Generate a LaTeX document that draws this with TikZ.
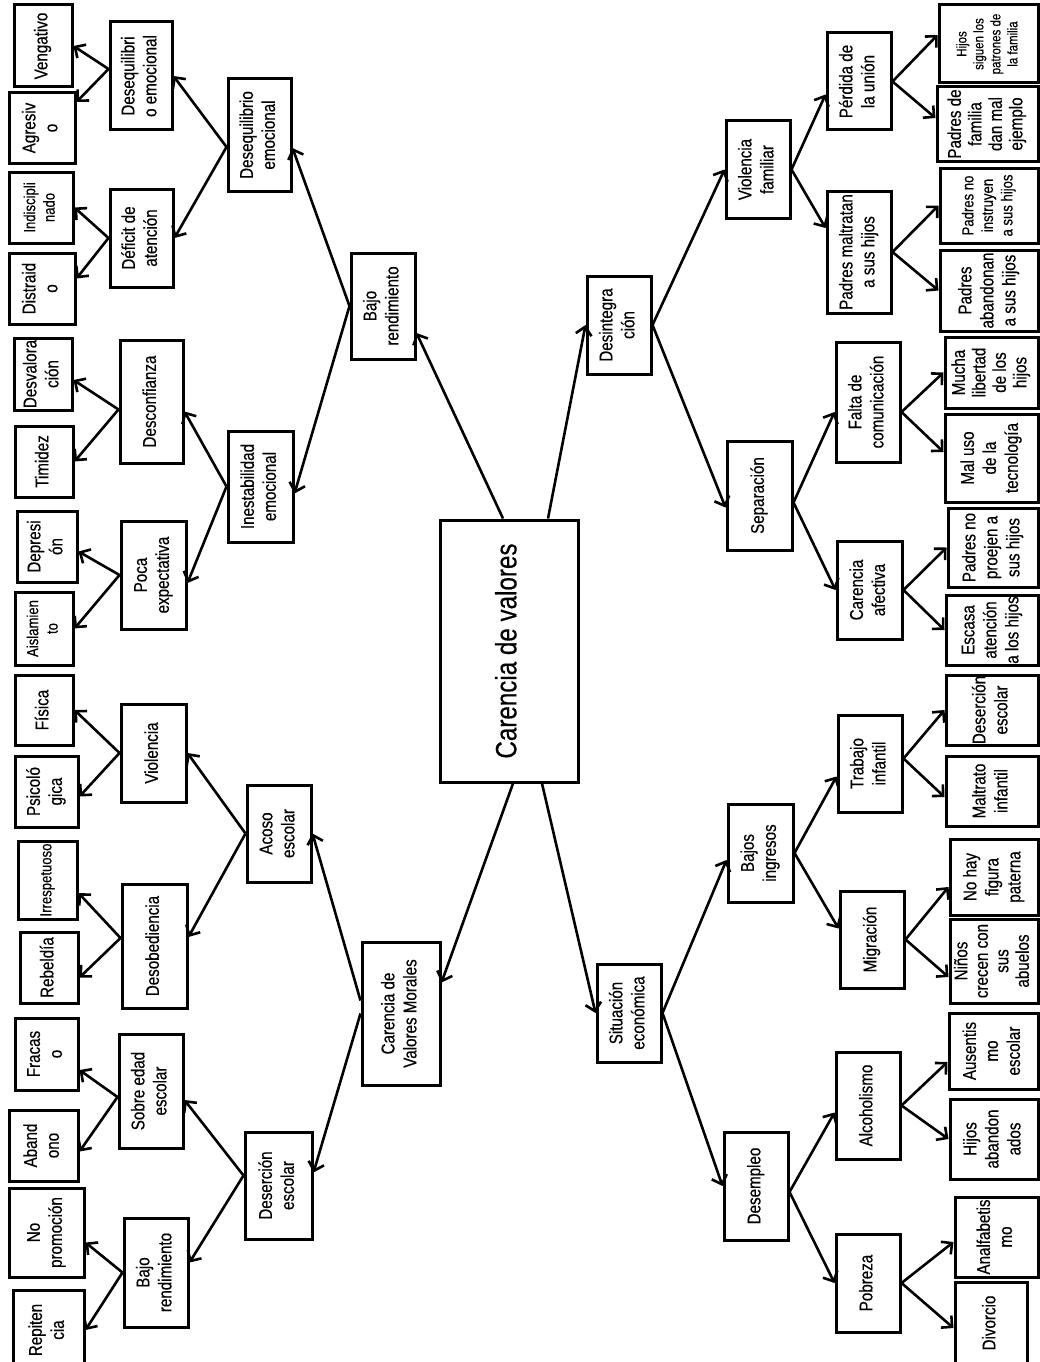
\documentclass[tikz,border=0pt]{standalone}
\usepackage{fontspec}
\setmainfont[FakeStretch=0.82,FakeBold=0.4]{Liberation Sans}
\usepackage{graphicx}
\usetikzlibrary{arrows.meta}

\newcommand{\vt}[1]{\rotatebox{90}{\begin{tabular}{@{}c@{}}#1\end{tabular}}}

\begin{document}
\begin{tikzpicture}[x=1pt,y=-1pt,
  >={Straight Barb[length=8pt,width=16pt]},
  box/.style 2 args={draw,line width=3pt,inner sep=0pt,minimum width=#1,minimum height=#2,
    font=\fontsize{18.5}{22}\selectfont},
  small/.style={font=\fontsize{16}{19.5}\selectfont},
  tight/.style={font=\fontsize{18.5}{20.5}\selectfont},
  tiny/.style={font=\fontsize{14}{17}\selectfont},
  arr/.style={->,line width=2.6pt}]
\fill[white] (0,0) rectangle (1040,1362);
\useasboundingbox (0,0) rectangle (1040,1362);

% centre
\node[box={138}{262}] (CV) at (509,651) {\vt{\fontsize{29.5}{34}\selectfont Carencia de valores}};

% left tree
\node[box={64}{106}] (BR1) at (383,306) {\vt{Bajo\\rendimiento}};
\node[box={78}{143}] (CVM) at (401,1013.5) {\vt{Carencia de\\Valores Morales}};

\node[box={63}{112}] (DE2) at (259.5,135) {\vt{Desequilibrio\\emocional}};
\node[box={65}{111}] (IE) at (260.5,486.5) {\vt{Inestabilidad\\emocional}};
\node[box={64}{97}] (AE) at (279,833.5) {\vt{Acoso\\escolar}};
\node[box={67}{107}] (DS) at (278.5,1185.5) {\vt{Deserción\\escolar}};

\node[box={62}{108}] (DE3) at (141,76) {\vt{Desequilibri\\o emocional}};
\node[box={63}{98}] (DA) at (141.5,238) {\vt{Déficit de\\atención}};
\node[box={63}{123}] (DF) at (151.5,401.5) {\vt{Desconfianza}};
\node[box={65}{108}] (PE) at (153.5,575) {\vt{Poca\\expectativa}};
\node[box={65}{98}] (VI) at (153.5,753) {\vt{Violencia}};
\node[box={65}{124}] (DB) at (154.5,946) {\vt{Desobediencia}};
\node[box={64}{114}] (SE) at (151,1091) {\vt{Sobre edad\\escolar}};
\node[box={64}{109}] (BR3) at (156,1272.5) {\vt{Bajo\\rendimiento}};

\node[box={58}{82}] (VEN) at (43,46) {\vt{Vengativo}};
\node[box={66}{70}] (AGR) at (42,128) {\vt{Agresiv\\o}};
\node[box={64}{71},small] (IND) at (41,207.5) {\vt{Indiscipli\\nado}};
\node[box={66}{71}] (DIS) at (42,288.5) {\vt{Distraid\\o}};
\node[box={58}{72}] (DVL) at (43,374) {\vt{Desvalora\\ción}};
\node[box={58}{71}] (TIM) at (44,461.5) {\vt{Timidez}};
\node[box={60}{71}] (DEP) at (47,546.5) {\vt{Depresi\\ón}};
\node[box={58}{73},small] (AIS) at (44,628.5) {\vt{Aislamien\\to}};
\node[box={58}{70}] (FIS) at (44,710) {\vt{Física}};
\node[box={63}{71}] (PSI) at (46.5,791.5) {\vt{Psicoló\\gica}};
\node[box={59}{78},small] (IRR) at (47.5,880) {\vt{Irrespetuoso}};
\node[box={58}{71}] (REB) at (49,967.5) {\vt{Rebeldía}};
\node[box={63}{72}] (FRA) at (46.5,1054) {\vt{Fracas\\o}};
\node[box={69}{71}] (ABA) at (43.5,1145.5) {\vt{Aband\\ono}};
\node[box={75}{89}] (NPR) at (46.5,1232.5) {\vt{No\\promoción}};
\node[box={71}{80}] (REP) at (48.5,1330) {\vt{Repiten\\cia}};

% right tree
\node[box={64}{98}] (DI) at (619,325) {\vt{Desintegra\\ción}};
\node[box={64}{98}] (SEC) at (629,1013) {\vt{Situación\\económica}};

\node[box={64}{97}] (VF) at (758,169.5) {\vt{Violencia\\familiar}};
\node[box={65}{109}] (SP) at (759.5,495.5) {\vt{Separación}};
\node[box={65}{98}] (BI) at (760.5,853) {\vt{Bajos\\ingresos}};
\node[box={64}{108}] (DM) at (756,1186) {\vt{Desempleo}};

\node[box={64}{97}] (PU) at (859,81.5) {\vt{Pérdida de\\la unión}};
\node[box={64}{122}] (PM) at (859,252) {\vt{Padres maltratan\\a sus hijos}};
\node[box={64}{120}] (FC) at (868,402) {\vt{Falta de\\comunicación}};
\node[box={65}{98}] (CA) at (869.5,590) {\vt{Carencia\\afectiva}};
\node[box={64}{97}] (TI) at (870,763.5) {\vt{Trabajo\\infantil}};
\node[box={64}{97}] (MG) at (872,939.5) {\vt{Migración}};
\node[box={64}{107}] (AL) at (868,1105.5) {\vt{Alcoholismo}};
\node[box={64}{98}] (PO) at (868,1283) {\vt{Pobreza}};

\node[box={99}{78},tiny] (HSP) at (988.5,44) {\vt{Hijos\\siguen los\\patrones de\\la familia}};
\node[box={101}{74},tight] (PDM) at (987.5,124) {\vt{Padres de\\familia\\dan mal\\ejemplo}};
\node[box={98}{75},small] (PNI) at (989,205.5) {\vt{Padres no\\instruyen\\a sus hijos}};
\node[box={98}{81}] (PAH) at (989,290.5) {\vt{Padres\\abandonan\\a sus hijos}};
\node[box={93}{71},tight] (MLH) at (991.5,372.5) {\vt{Mucha\\libertad\\de los\\hijos}};
\node[box={93}{88}] (MUT) at (991.5,458) {\vt{Mal uso\\de la\\tecnología}};
\node[box={90}{79}] (PNP) at (993,547.5) {\vt{Padres no\\proejen a\\sus hijos}};
\node[box={92}{70}] (EAH) at (992,630) {\vt{Escasa\\atención\\a los hijos}};
\node[box={92}{70}] (DSE) at (992,710) {\vt{Deserción\\escolar}};
\node[box={92}{70}] (MTI) at (992,791) {\vt{Maltrato\\infantil}};
\node[box={88}{76}] (NHF) at (994,877) {\vt{No hay\\figura\\paterna}};
\node[box={88}{84},tight] (NCA) at (994,961) {\vt{Niños\\crecen con\\sus\\abuelos}};
\node[box={89}{76}] (AUS) at (993.5,1051) {\vt{Ausentis\\mo\\escolar}};
\node[box={88}{80}] (HAB) at (994,1139) {\vt{Hijos\\abandon\\ados}};
\node[box={83}{80}] (ANA) at (996.5,1237) {\vt{Analfabetis\\mo}};
\node[box={72}{82}] (DIV) at (991,1323) {\vt{Divorcio}};

% centre to first level
\draw[arr] ([xshift=-6pt]CV.north) -- ([yshift=-27pt]BR1.east);
\draw[arr] ([xshift=39pt]CV.north) -- (DI.west);
\draw[arr] ([xshift=4pt]CV.south) -- ([yshift=31pt]CVM.east);
\draw[arr] ([xshift=33pt]CV.south) -- (SEC.west);

% left tree connectors
\draw[arr] (BR1.west) -- ([yshift=-13pt]DE2.east);
\draw[arr] (BR1.west) -- ([yshift=-7pt]IE.east);
\draw[arr] ([yshift=13pt]CVM.west) -- (AE.east);
\draw[arr] (CVM.west) -- ([yshift=13pt]DS.east);

\draw[arr] ([yshift=-12pt]DE2.west) -- (DE3.east);
\draw[arr] ([yshift=-12pt]DE2.west) -- (DA.east);
\draw[arr] (IE.west) -- ([yshift=-10pt]DF.east);
\draw[arr] (IE.west) -- ([yshift=-8pt]PE.east);
\draw[arr] (AE.west) -- (VI.east);
\draw[arr] (AE.west) -- ([yshift=9pt]DB.east);
\draw[arr] ([yshift=10pt]DS.west) -- ([yshift=-9pt]SE.east);
\draw[arr] ([yshift=10pt]DS.west) -- ([yshift=10pt]BR3.east);

\draw[arr] ([yshift=7pt]DE3.west) -- (VEN.east);
\draw[arr] ([yshift=7pt]DE3.west) -- ([yshift=26pt]AGR.east);
\draw[arr] (DA.west) -- (IND.east);
\draw[arr] (DA.west) -- ([yshift=10pt]DIS.east);
\draw[arr] ([yshift=-8pt]DF.west) -- ([yshift=-6pt]DVL.east);
\draw[arr] ([yshift=-8pt]DF.west) -- (TIM.east);
\draw[arr] (PE.west) -- ([yshift=-5pt]DEP.east);
\draw[arr] (PE.west) -- (AIS.east);
\draw[arr] (VI.west) -- (FIS.east);
\draw[arr] (VI.west) -- ([yshift=-5pt]PSI.east);
\draw[arr] ([yshift=8pt]DB.west) -- ([yshift=-13pt]IRR.east);
\draw[arr] ([yshift=8pt]DB.west) -- ([yshift=-10pt]REB.east);
\draw[arr] ([yshift=-6pt]SE.west) -- ([yshift=-16pt]FRA.east);
\draw[arr] ([yshift=-6pt]SE.west) -- ([yshift=-6pt]ABA.east);
\draw[arr] (BR3.west) -- ([yshift=-10pt]NPR.east);
\draw[arr] (BR3.west) -- (REP.east);

% right tree connectors
\draw[arr] (DI.east) -- (VF.west);
\draw[arr] (DI.east) -- ([yshift=-12pt]SP.west);
\draw[arr] (SEC.east) -- ([yshift=-7pt]BI.west);
\draw[arr] (SEC.east) -- (DM.west);

\draw[arr] (VF.east) -- ([yshift=-13pt]PU.west);
\draw[arr] (VF.east) -- ([yshift=24pt]PM.west);
\draw[arr] ([yshift=-7pt]SP.east) -- ([yshift=-10pt]FC.west);
\draw[arr] ([yshift=-7pt]SP.east) -- (CA.west);
\draw[arr] (BI.east) -- ([yshift=-13pt]TI.west);
\draw[arr] (BI.east) -- ([yshift=11pt]MG.west);
\draw[arr] ([yshift=-6pt]DM.east) -- ([yshift=-7pt]AL.west);
\draw[arr] ([yshift=-6pt]DM.east) -- (PO.west);

\draw[arr] (PU.east) -- ([yshift=9pt]HSP.west);
\draw[arr] (PU.east) -- ([yshift=6pt]PDM.west);
\draw[arr] (PM.east) -- (PNI.west);
\draw[arr] (PM.east) -- (PAH.west);
\draw[arr] ([yshift=-10pt]FC.east) -- (MLH.west);
\draw[arr] ([yshift=-10pt]FC.east) -- ([yshift=6pt]MUT.west);
\draw[arr] (CA.east) -- (PNP.west);
\draw[arr] (CA.east) -- (EAH.west);
\draw[arr] ([yshift=5pt]TI.east) -- (DSE.west);
\draw[arr] ([yshift=5pt]TI.east) -- ([yshift=-6pt]MTI.west);
\draw[arr] (MG.east) -- ([yshift=-10pt]NHF.west);
\draw[arr] (MG.east) -- ([yshift=-16pt]NCA.west);
\draw[arr] (AL.east) -- ([yshift=-11pt]AUS.west);
\draw[arr] (AL.east) -- (HAB.west);
\draw[arr] (PO.east) -- ([yshift=-5pt]ANA.west);
\draw[arr] (PO.east) -- ([yshift=-5pt]DIV.west);
\end{tikzpicture}
\end{document}
